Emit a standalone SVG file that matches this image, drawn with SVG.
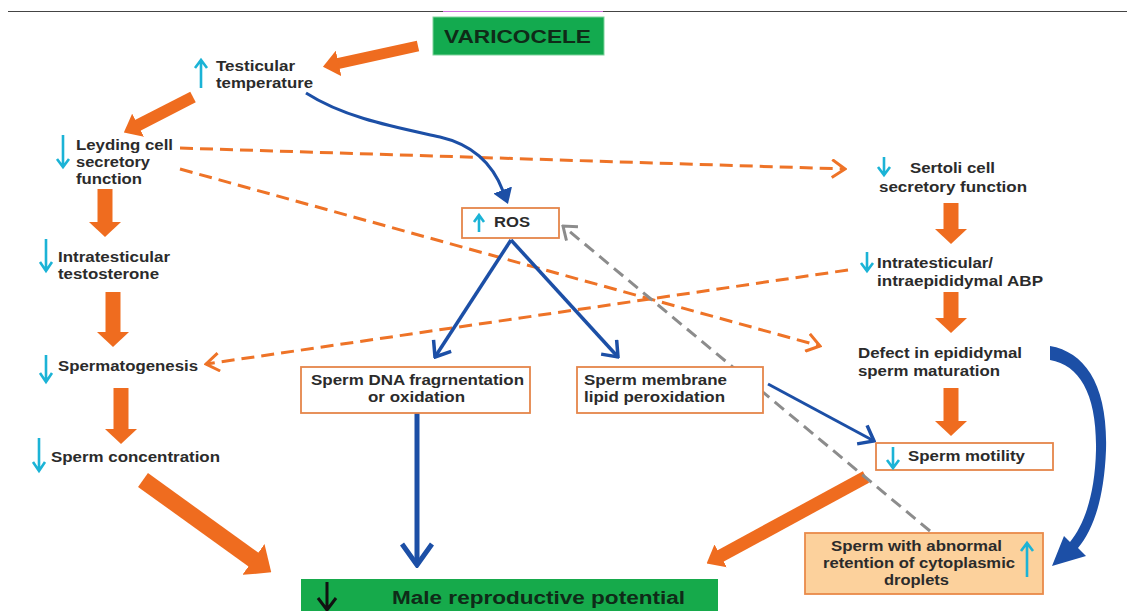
<svg xmlns="http://www.w3.org/2000/svg" width="1127" height="611" viewBox="0 0 1127 611">
<style>
.t{font-family:"Liberation Sans",Arial,sans-serif;font-weight:bold;font-size:14px;fill:#2b2b2b}
.big{font-size:18px;fill:#0f2b18}
.box{fill:#ffffff;stroke:#e5854a;stroke-width:1.8}
.cy{fill:none;stroke:#1bb3d6;stroke-width:2.6;stroke-linejoin:miter}
.oth{fill:none;stroke:#ef6c1f}
.od{fill:none;stroke:#ee7327;stroke-width:3;stroke-dasharray:13 7}
.gd{fill:none;stroke:#8c8c8c;stroke-width:3;stroke-dasharray:12 7}
.bl{fill:none;stroke:#1c4fa6}
</style>
<defs>
<marker id="oh" markerUnits="userSpaceOnUse" viewBox="0 0 15 32" markerWidth="15" markerHeight="32" refX="1" refY="16" orient="auto"><path d="M0,0 L15,16 L0,32 Z" fill="#ef6c1f"/></marker>
<marker id="ohm" markerUnits="userSpaceOnUse" viewBox="0 0 16 26" markerWidth="16" markerHeight="26" refX="1" refY="13" orient="auto"><path d="M0,0 L16,13 L0,26 Z" fill="#ef6c1f"/></marker>
<marker id="ohl" markerUnits="userSpaceOnUse" viewBox="0 0 22 38" markerWidth="22" markerHeight="38" refX="1" refY="19" orient="auto"><path d="M0,0 L22,19 L0,38 Z" fill="#ef6c1f"/></marker>
<marker id="ov" markerUnits="userSpaceOnUse" viewBox="0 0 16 20" markerWidth="16" markerHeight="20" refX="14" refY="10" orient="auto"><path d="M1,1 L14,10 L1,19" fill="none" stroke="#ee7327" stroke-width="3" stroke-dasharray="none"/></marker>
<marker id="gv" markerUnits="userSpaceOnUse" viewBox="0 0 15 20" markerWidth="15" markerHeight="20" refX="13" refY="10" orient="auto"><path d="M1,1 L13,10 L1,19" fill="none" stroke="#8c8c8c" stroke-width="3" stroke-dasharray="none"/></marker>
<marker id="bh" markerUnits="userSpaceOnUse" viewBox="0 0 15 20" markerWidth="15" markerHeight="20" refX="1" refY="10" orient="auto"><path d="M0,0 L15,10 L0,20 Z" fill="#1c4fa6"/></marker>
<marker id="bv" markerUnits="userSpaceOnUse" viewBox="0 0 17 24" markerWidth="17" markerHeight="24" refX="15" refY="12" orient="auto"><path d="M1.5,1.5 L15,12 L1.5,22.5" fill="none" stroke="#1c4fa6" stroke-width="3.5"/></marker>
<marker id="bvl" markerUnits="userSpaceOnUse" viewBox="0 0 26 34" markerWidth="26" markerHeight="34" refX="23" refY="17" orient="auto"><path d="M2,2 L23,17 L2,32" fill="none" stroke="#1c4fa6" stroke-width="5"/></marker>
</defs>
<rect width="1127" height="611" fill="#ffffff"/>
<line x1="8" y1="11.5" x2="1127" y2="11.5" stroke="#444444" stroke-width="1"/>
<line x1="443" y1="11.5" x2="603" y2="11.5" stroke="#d070e0" stroke-width="1.2"/>

<g id="connectors">
<!-- orange thick arrows -->
<line class="oth" x1="418" y1="46" x2="337.6" y2="63.6" stroke-width="11" marker-end="url(#ohm)"/>
<line class="oth" x1="193" y1="97" x2="137.2" y2="125.7" stroke-width="12" marker-end="url(#ohm)"/>
<line class="oth" x1="105" y1="189" x2="105" y2="223" stroke-width="15" marker-end="url(#oh)"/>
<line class="oth" x1="113" y1="292" x2="113" y2="333" stroke-width="15" marker-end="url(#oh)"/>
<line class="oth" x1="121" y1="388" x2="121" y2="430" stroke-width="15" marker-end="url(#oh)"/>
<line class="oth" x1="143" y1="480" x2="254.2" y2="560.1" stroke-width="17" marker-end="url(#ohl)"/>
<line class="oth" x1="951" y1="203" x2="951" y2="230" stroke-width="15" marker-end="url(#oh)"/>
<line class="oth" x1="951" y1="292" x2="951" y2="319" stroke-width="15" marker-end="url(#oh)"/>
<line class="oth" x1="951" y1="388" x2="951" y2="422" stroke-width="15" marker-end="url(#oh)"/>
<line class="oth" x1="866" y1="477" x2="719.8" y2="556.4" stroke-width="13" marker-end="url(#ohm)"/>
<!-- orange dashed -->
<line class="od" x1="180" y1="148" x2="845" y2="169" marker-end="url(#ov)"/>
<line class="od" x1="180" y1="169" x2="820" y2="346" marker-end="url(#ov)"/>
<line class="od" x1="848" y1="270" x2="206" y2="364" marker-end="url(#ov)"/>
<!-- gray dashed -->
<line class="gd" x1="930" y1="531" x2="563" y2="226" marker-end="url(#gv)"/>
<!-- blue -->
<path class="bl" d="M306,93 C345,118 395,127 440,137 C470,144 492,162 503,191" stroke-width="3" marker-end="url(#bh)"/>
<line class="bl" x1="511" y1="240" x2="435" y2="357" stroke-width="3.5" marker-end="url(#bv)"/>
<line class="bl" x1="511" y1="240" x2="618" y2="357" stroke-width="3.5" marker-end="url(#bv)"/>
<line class="bl" x1="417" y1="413" x2="417" y2="565" stroke-width="5" marker-end="url(#bvl)"/>
<line class="bl" x1="768" y1="384" x2="874" y2="441" stroke-width="3" marker-end="url(#bv)"/>
<path d="M1050,346 C1085,352 1108,385 1106,450 C1104,500 1093,530 1078,548 L1086,556 L1052,566 L1064,536 L1070,542 C1084,525 1095,495 1096,450 C1097,395 1080,365 1050,360 Z" fill="#1c4fa6"/>
</g>

<g id="varicocele">
<rect x="433" y="17" width="171" height="38" fill="#13aa4f" stroke="#7fd39c" stroke-width="1"/>
<text class="t big" x="444" y="43" textLength="147" lengthAdjust="spacingAndGlyphs">VARICOCELE</text>
</g>

<g id="testicular-temperature">
<path class="cy" d="M201,88 V61 M195,68 L201,60 L207,68"/>
<text class="t" x="216" y="71" textLength="79" lengthAdjust="spacingAndGlyphs">Testicular</text>
<text class="t" x="216" y="88" textLength="97" lengthAdjust="spacingAndGlyphs">temperature</text>
</g>

<g id="leyding">
<path class="cy" d="M63,135 V166 M57,159 L63,167 L69,159"/>
<text class="t" x="76" y="150" textLength="97" lengthAdjust="spacingAndGlyphs">Leyding cell</text>
<text class="t" x="76" y="167" textLength="74" lengthAdjust="spacingAndGlyphs">secretory</text>
<text class="t" x="76" y="184" textLength="66" lengthAdjust="spacingAndGlyphs">function</text>
</g>

<g id="testosterone">
<path class="cy" d="M46,239 V270 M40,262 L46,271 L52,262"/>
<text class="t" x="58" y="262" textLength="112" lengthAdjust="spacingAndGlyphs">Intratesticular</text>
<text class="t" x="58" y="279" textLength="101" lengthAdjust="spacingAndGlyphs">testosterone</text>
</g>

<g id="spermatogenesis">
<path class="cy" d="M46,355 V381 M40,373 L46,382 L52,373"/>
<text class="t" x="58" y="371" textLength="140" lengthAdjust="spacingAndGlyphs">Spermatogenesis</text>
</g>

<g id="sperm-concentration">
<path class="cy" d="M39,438 V470 M33,462 L39,471 L45,462"/>
<text class="t" x="51" y="462" textLength="169" lengthAdjust="spacingAndGlyphs">Sperm concentration</text>
</g>

<g id="ros">
<rect class="box" x="462" y="208" width="97" height="30"/>
<path class="cy" d="M479,232 V216 M474,222 L479,215 L484,222"/>
<text class="t" x="494" y="227" textLength="36" lengthAdjust="spacingAndGlyphs">ROS</text>
</g>

<g id="dna">
<rect class="box" x="301" y="367" width="229" height="46"/>
<text class="t" x="311" y="385" textLength="213" lengthAdjust="spacingAndGlyphs">Sperm DNA fragrnentation</text>
<text class="t" x="368" y="402" textLength="97" lengthAdjust="spacingAndGlyphs">or oxidation</text>
</g>

<g id="membrane">
<rect class="box" x="577" y="367" width="186" height="46"/>
<text class="t" x="584" y="385" textLength="143" lengthAdjust="spacingAndGlyphs">Sperm membrane</text>
<text class="t" x="584" y="402" textLength="141" lengthAdjust="spacingAndGlyphs">lipid peroxidation</text>
</g>

<g id="sertoli">
<path class="cy" d="M884,157 V173 M878,167 L884,175 L890,167" stroke-width="3"/>
<text class="t" x="910" y="173" textLength="85" lengthAdjust="spacingAndGlyphs">Sertoli cell</text>
<text class="t" x="879" y="192" textLength="148" lengthAdjust="spacingAndGlyphs">secretory function</text>
</g>

<g id="abp">
<path class="cy" d="M867,252 V269 M861,263 L867,271 L873,263" stroke-width="3"/>
<text class="t" x="877" y="268" textLength="116" lengthAdjust="spacingAndGlyphs">Intratesticular/</text>
<text class="t" x="877" y="286" textLength="166" lengthAdjust="spacingAndGlyphs">intraepididymal ABP</text>
</g>

<g id="defect">
<text class="t" x="858" y="358" textLength="164" lengthAdjust="spacingAndGlyphs">Defect in epididymal</text>
<text class="t" x="858" y="376" textLength="142" lengthAdjust="spacingAndGlyphs">sperm maturation</text>
</g>

<g id="motility">
<rect class="box" x="876" y="443" width="177" height="27"/>
<path class="cy" d="M893,447 V467 M887,460 L893,468 L899,460"/>
<text class="t" x="908" y="461" textLength="117" lengthAdjust="spacingAndGlyphs">Sperm motility</text>
</g>

<g id="cytoplasmic">
<rect x="805" y="533" width="238" height="61" fill="#fcd19c" stroke="#e98a4a" stroke-width="1.8"/>
<text class="t" x="831" y="551" textLength="171" lengthAdjust="spacingAndGlyphs">Sperm with abnormal</text>
<text class="t" x="823" y="568" textLength="192" lengthAdjust="spacingAndGlyphs">retention of cytoplasmic</text>
<text class="t" x="884" y="585" textLength="65" lengthAdjust="spacingAndGlyphs">droplets</text>
<path class="cy" d="M1027,577 V544 M1021,551 L1027,543 L1033,551"/>
</g>

<g id="male-potential">
<rect x="301" y="579" width="417" height="40" fill="#16aa4b"/>
<path d="M327,582 V610 M318,598 L327,610 L336,598" fill="none" stroke="#111111" stroke-width="3"/>
<text class="t big" x="392" y="604" textLength="293" lengthAdjust="spacingAndGlyphs">Male reproductive potential</text>
</g>
</svg>
